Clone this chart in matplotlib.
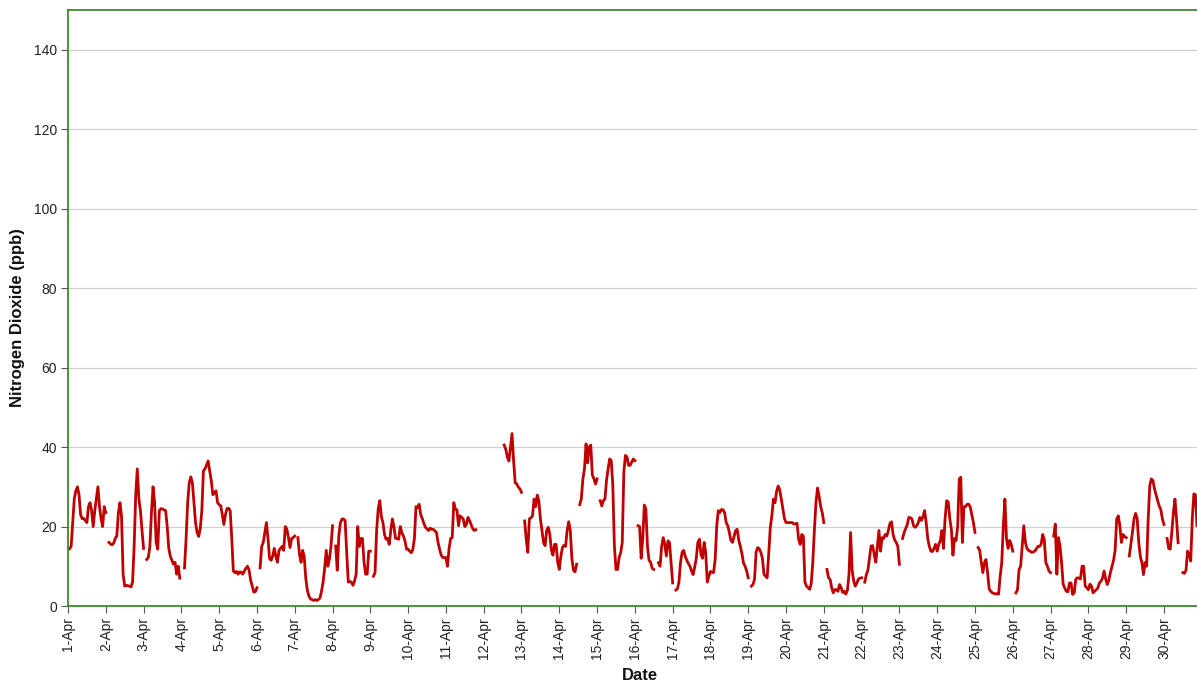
import numpy as np
import matplotlib.pyplot as plt

plt.rcParams['font.family'] = ['Liberation Sans', 'DejaVu Sans']

nan = float('nan')

# hourly NO2 readings (ppb), one list per day of April, hours 0..23
day01 = [nan, 14.4, 15, 21, 27, 29, 30, 28, 23, 22, 22, 21.5, 21, 25, 26, 24, 20, 24, 27, 30, 25, 22, 20, 25]
day02 = [23.5, nan, 16, 15.6, 15.4, 15.8, 17, 17.6, 23.5, 26, 22.5, 8, 5, 5.2, 5.1, 5, 4.8, 6, 15, 28, 34.5, 27, 24, 19]
day03 = [14.5, nan, 11.7, 12.2, 15, 23.5, 30, 26, 16, 14.3, 24, 24.5, 24.4, 24.2, 24, 20, 14.5, 12.5, 11.5, 10.5, 11, 8, 10, 7]
day04 = [nan, nan, 9.6, 17, 26, 31, 32.5, 31, 26, 21, 18.5, 17.5, 19.5, 24, 34, 34.5, 35.5, 36.5, 34, 31.5, 28, 28.5, 29, 26]
day05 = [25.5, 25.2, 23, 20.5, 23, 24.5, 24.6, 24, 17, 8.8, 8.4, 8.7, 8, 8.6, 8.5, 8, 8.8, 9.5, 10, 9, 6.5, 5, 3.5, 3.6]
day06 = [4.6, nan, 9.6, 15, 16, 18.5, 21, 17, 12, 11.5, 12.6, 14.5, 12.5, 11, 14, 14.5, 15, 14, 20, 19.3, 17.2, 14.7, 17, 17.2]
day07 = [17.6, nan, 17.2, 13, 11, 14, 12.5, 7, 4, 2.5, 1.8, 1.6, 1.4, 1.6, 1.4, 1.6, 2, 3.7, 6, 9.5, 14, 10, 11.7, 15]
day08 = [20.2, nan, 15.1, 9, 17.6, 21, 21.9, 21.9, 21.5, 13.4, 6, 6.2, 6, 5.2, 6.3, 8, 20, 15, 17, 17, 11, 8, 8, 13.8]
day09 = [13.8, nan, 7.5, 8.4, 19, 24.4, 26.5, 22.5, 21, 18, 16.8, 17, 15.5, 19, 21.9, 20, 17, 17, 16.8, 20, 18.5, 17.6, 16.4, 14.3]
day10 = [14.3, 13.8, 13.4, 14.2, 17, 25, 24.8, 25.6, 23, 22, 20.8, 19.8, 19.4, 19, 19.6, 19.3, 19.3, 18.9, 18.5, 16, 14.3, 12.8, 12.2, 12.2]
day11 = [12.2, 10, 14.5, 17, 17.2, 26, 24.4, 24.2, 20.2, 22.7, 22.3, 21.9, 20, 20.5, 22.3, 21.5, 20.5, 19.5, 19, 19.2, nan, nan, nan, nan]
day12 = [nan] * 13 + [40.5, 39.5, 37.5, 36.5, 40, 43.4, 36.5, 31, 30.7, 29.9, 29.5]
day13 = [28.6, nan, 21.4, 16.8, 13.5, 21.9, 22.2, 22.7, 26.9, 25, 27.9, 26.5, 22, 19, 16, 15.2, 19, 19.8, 18, 14, 12.8, 15.5, 15.5, 11]
day14 = [9.2, 12.5, 14.7, 15.3, 15, 19, 21.2, 19, 12, 9, 8.6, 10.5, nan, 25.5, 27, 32, 34.5, 40.8, 36, 40, 40.5, 33, 32, 30.7]
day15 = [32, nan, 26.5, 25.2, 26.5, 26.9, 31.6, 34.5, 37, 36.6, 30.3, 15.1, 9.2, 9.2, 12.2, 13.4, 16, 33.7, 37.9, 37.5, 35.4, 35.4, 36.2, 37]
day16 = [36.6, nan, 20.2, 20, 12, 17, 25.4, 24.4, 15, 11.5, 11, 9.5, 9.2, nan, nan, 10.9, 10, 15, 17.2, 15.5, 12.6, 16.4, 16, 11]
day17 = [5.8, nan, 4, 4.3, 6, 11, 13.5, 14, 12.5, 11.5, 10.7, 10, 8.8, 7.9, 9.8, 12, 16, 16.8, 13, 12, 16, 13.4, 6, 7.5]
day18 = [8.7, 8.5, 8.4, 11.7, 20.2, 24, 23.5, 24.3, 24.2, 23.5, 21, 20.2, 18.5, 16.5, 16, 17.5, 19, 19.3, 16.5, 15, 13.2, 10.8, 10, 8.8]
day19 = [7.1, nan, 5, 5.4, 6.7, 13.6, 14.7, 14.4, 13.5, 12, 8, 7.5, 7.1, 13, 19.7, 22.7, 26.9, 26, 28.8, 30.2, 29.2, 26.9, 24.4, 22]
day20 = [21, 21, 21, 21, 21, 20.6, 20.7, 20.8, 16.8, 15.5, 18, 17.6, 6, 5, 4.6, 4.2, 5.6, 11, 19, 26, 29.7, 27.7, 25, 23.5]
day21 = [21, nan, 9.2, 7.1, 6.7, 4.6, 3.3, 4.1, 4.1, 3.7, 5.4, 4.6, 3.4, 3.7, 3, 4, 8, 18.5, 9, 6.2, 5, 5.8, 6.8, 7]
day22 = [7.1, nan, 6, 7.9, 9, 12, 15.1, 15.2, 13, 11, 15, 19, 13.8, 17.2, 17, 18, 17.6, 19, 20.8, 21.2, 18, 16.6, 16, 15]
day23 = [10.5, nan, 17, 18.5, 19.5, 20.5, 22.3, 22.2, 21.9, 20.2, 19.8, 20.2, 21, 22.3, 21.5, 22.5, 24, 21, 17, 15, 13.8, 13.7, 14.5, 15.5]
day24 = [13.8, 15.5, 16.5, 19, 14.5, 21.9, 26.5, 26.2, 22, 19.3, 12.8, 17, 16.5, 20, 32, 32.4, 16, 25, 25, 25.6, 25.6, 24.9, 23, 21]
day25 = [18.5, nan, 14.7, 14, 11, 8.4, 10.9, 11.7, 8.4, 4.3, 3.7, 3.3, 3.2, 3, 3.1, 3, 7.5, 10.9, 20.2, 26.9, 17, 14.5, 16.5, 15.5]
day26 = [13.8, nan, 3.3, 4.1, 9.2, 10, 15, 20.2, 16, 14.5, 14, 13.8, 13.5, 13.6, 13.8, 14.4, 15, 15, 15.5, 18, 16.8, 10.9, 10, 8.8]
day27 = [8.4, nan, 17.6, 20.6, 8, 17.2, 15.1, 10.9, 5.5, 4.5, 3.7, 3.6, 5.8, 5.8, 2.9, 3.3, 6.7, 7.1, 7, 6.8, 10, 10, 5, 4.6]
day28 = [4.1, 5.5, 5, 3.3, 3.7, 4.1, 4.5, 5.8, 6.2, 7, 8.8, 6.8, 5.4, 6.5, 8.4, 10, 11.5, 14, 21.9, 22.7, 20.2, 16, 18, 17.5]
day29 = [17.2, nan, 12.6, 15.5, 18.5, 21.9, 23.3, 22, 16, 12.5, 10.9, 7.9, 10.9, 10, 21.9, 30.3, 32, 31.6, 29.5, 28, 26.5, 25.2, 24.3, 22]
day30 = [20.5, nan, 17, 14.5, 14.3, 18.5, 23.5, 26.9, 21.9, 15.9, nan, nan, 8.4, 8.2, 9, 13.8, 13, 11.3, 21.9, 28.2, 28, 20.2, nan, nan]

days = [day01, day02, day03, day04, day05, day06, day07, day08, day09, day10,
        day11, day12, day13, day14, day15, day16, day17, day18, day19, day20,
        day21, day22, day23, day24, day25, day26, day27, day28, day29, day30]
no2 = np.concatenate([np.array(d, dtype=float) for d in days])
t = np.arange(no2.size) / 24.0

tick_labels = [f"{d}-Apr" for d in range(1, 31)]

W, H = 1197, 686
fig = plt.figure(figsize=(W / 100, H / 100), dpi=100)
ax = fig.add_axes([68 / W, (H - 606) / H, (W - 68) / W, (606 - 10) / H])

ax.plot(t, no2, color='#c00000', linewidth=2.0, solid_joinstyle='round')

ax.set_xlim(0, 29.875)
ax.set_ylim(0, 150)
ax.set_yticks(range(0, 141, 20))
ax.set_xticks(range(30))
ax.set_xticklabels(tick_labels, rotation=90)

ax.grid(axis='y', color='#d0d0d0', linewidth=0.9)
ax.set_axisbelow(True)

green = '#3a8a2a'
for side in ['left', 'top', 'bottom']:
    ax.spines[side].set_color(green)
    ax.spines[side].set_linewidth(1.3)
ax.spines['right'].set_visible(False)

ax.tick_params(axis='both', length=5, width=0.8, color='#555555',
               labelsize=10, labelcolor='#222222', pad=3)

ax.set_ylabel('Nitrogen Dioxide (ppb)', fontsize=12, fontweight='bold', color='#111111')
ax.yaxis.label.set_va('center')
ax.yaxis.set_label_coords((18 - 68) / (W - 68), (606 - 318) / 596)
ax.set_xlabel('Date', fontsize=12, fontweight='bold', color='#111111')
ax.xaxis.label.set_va('center')
ax.xaxis.set_label_coords((640 - 68) / (W - 68), (606 - 676) / 596)

fig.savefig('out.png', dpi=100)
